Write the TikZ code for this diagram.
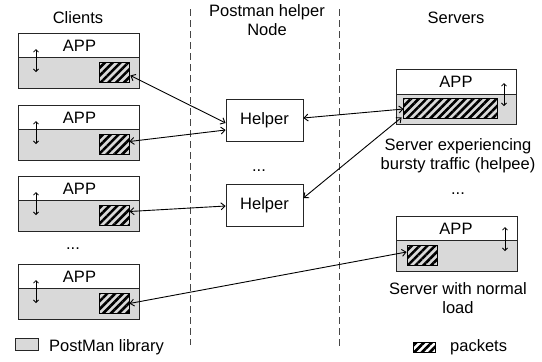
\documentclass[tikz,border=0pt]{standalone}
\usepackage{fontspec}
\setmainfont{Liberation Sans}
\usetikzlibrary{patterns.meta,arrows.meta,calc}
\definecolor{libgray}{RGB}{217,217,217}
\definecolor{dashgray}{RGB}{70,70,70}
\tikzset{
  appbox/.style={draw=black!85, line width=0.8pt, minimum width=121pt, minimum height=24pt, inner sep=0pt},
  libbox/.style={draw=black!85, line width=0.8pt, fill=libgray, minimum width=121pt, minimum height=31pt, inner sep=0pt},
  pkt/.style={draw=black, line width=0.8pt, fill=white, pattern={Lines[angle=45,distance=5.5pt,line width=2.6pt]}, pattern color=black, minimum width=30pt, minimum height=20pt, inner sep=0pt},
  helperbox/.style={draw=black!85, line width=0.8pt, minimum width=77pt, minimum height=42pt, inner sep=0pt},
  conn/.style={line width=0.9pt, {Straight Barb[length=4pt,width=7pt]}-{Straight Barb[length=4pt,width=7pt]}},
  updown/.style={line width=0.8pt, {Straight Barb[length=2.5pt,width=5pt]}-{Straight Barb[length=2.5pt,width=5pt]}},
  sep/.style={draw=dashgray, line width=0.8pt, dash pattern=on 7pt off 4pt},
  lbl/.style={inner sep=0pt, font=\fontsize{16.5}{19}\selectfont, align=center},
}
\begin{document}
\begin{tikzpicture}[x=1pt,y=-1pt]
\useasboundingbox (0,0) rectangle (542,362);
% titles
\node[lbl] (tcl) at (78,18) {Clients};
\node[lbl] (thn) at (267,20.5) {Postman helper\\Node};
\node[lbl] (tsv) at (456,18) {Servers};
% separators
\coordinate (d1t) at (190,9); \coordinate (d1b) at (190,345);
\coordinate (d2t) at (339,9); \coordinate (d2b) at (339,347);
\draw[sep] (d1t) -- (d1b);
\draw[sep] (d2t) -- (d2b);
% clients
\foreach \i/\t in {1/33,2/105,3/176,4/264}{
  \node[appbox] (a\i) at (78.5,\t+12) {};
  \node[lbl] (at\i) at (79.5,\t+12.5) {APP};
  \node[libbox] (l\i) at (78.5,\t+39.5) {};
  \node[pkt] (p\i) at (114,\t+39.5) {};
  \coordinate (u\i t) at (36,\t+16);
  \coordinate (u\i b) at (36,\t+39);
  \draw[updown] (u\i t) -- (u\i b);
}
\node[lbl] (cdots) at (73,249) {...};
% helpers
\node[helperbox] (h1) at (264.5,120) {};
\node[lbl] (h1t) at (264.5,120.5) {Helper};
\node[helperbox] (h2) at (264.5,205) {};
\node[lbl] (h2t) at (264.5,205.5) {Helper};
\node[lbl] (hdots) at (259,171) {...};
% servers
\node[appbox, minimum width=120pt, minimum height=25pt] (sa1) at (456,81.5) {};
\node[lbl] (sa1t) at (456,82) {APP};
\node[libbox, minimum width=120pt, minimum height=30pt] (sl1) at (456,109) {};
\node[pkt, minimum width=94pt] (sp1) at (450,108) {};
\coordinate (su1t) at (504,83); \coordinate (su1b) at (504,106);
\draw[updown] (su1t) -- (su1b);
\node[lbl] (s1txt) at (458,155.5) {Server experiencing\\bursty traffic (helpee)};
\node[lbl] (sdots) at (458,194) {...};
\node[appbox] (sa2) at (456.5,228) {};
\node[lbl] (sa2t) at (456,228.5) {APP};
\node[libbox] (sl2) at (456.5,255.5) {};
\node[pkt] (sp2) at (422,255) {};
\coordinate (su2t) at (505,227); \coordinate (su2b) at (505,251);
\draw[updown] (su2t) -- (su2b);
\node[lbl] (s2txt) at (458,298) {Server with normal\\load};
% connectors
\draw[conn] ($(p1.east)+(0,3)$) -- ($(h1.west)+(0,3)$);
\draw[conn] ($(p2.east)+(0,-3)$) -- ($(h1.west)+(0,10)$);
\draw[conn] ($(p3.east)+(0,-4)$) -- ($(h2.west)+(0,1)$);
\draw[conn] (p4.east) -- ($(sp2.west)+(0,-3)$);
\draw[conn] ($(h1.east)+(0,-2)$) -- ($(sp1.west)+(1,1)$);
\draw[conn] ($(h2.east)+(0,-7)$) -- ($(sp1.south west)+(-1,-1)$);
% legend
\node[draw=black!85, line width=0.8pt, fill=libgray, minimum width=23pt, minimum height=12pt, inner sep=0pt] (lg1) at (26.5,344) {};
\node[lbl, anchor=west] (lg1t) at (49,347) {PostMan library};
\node[pkt, minimum width=22pt, minimum height=10pt] (lg2) at (424,347.5) {};
\node[lbl, anchor=west] (lg2t) at (450,347) {packets};
\end{tikzpicture}
\end{document}
